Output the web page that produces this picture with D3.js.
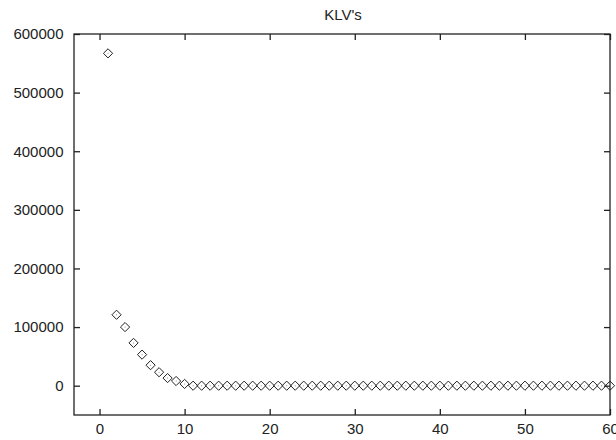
<!DOCTYPE html>
<html>
<head>
<meta charset="utf-8">
<script src="https://cdn.jsdelivr.net/npm/d3@7"></script>
<style>
  html, body { margin: 0; padding: 0; background: #fff; }
  svg { display: block; }
  text { font-family: "Liberation Sans", Arial, Helvetica, sans-serif; fill: #222; }
</style>
</head>
<body>
<svg id="chart" width="616" height="440"></svg>
<script>
// KLV value for each index 1..60
const xValues = d3.range(1, 61);
const klvValues = [
  567000, 121000, 100000, 73000, 53000, 35000, 23000, 13000, 8000, 3000,
  0, 0, 0, 0, 0, 0, 0, 0, 0, 0,
  0, 0, 0, 0, 0, 0, 0, 0, 0, 0,
  0, 0, 0, 0, 0, 0, 0, 0, 0, 0,
  0, 0, 0, 0, 0, 0, 0, 0, 0, 0,
  0, 0, 0, 0, 0, 0, 0, 0, 0, 0
];
const xTicks = [0, 10, 20, 30, 40, 50, 60];
const yTicks = [0, 100000, 200000, 300000, 400000, 500000, 600000];
const title = "KLV's";

const svg = d3.select("#chart");
const plotL = 74, plotR = 610, plotT = 34, plotB = 415;

const x = d3.scaleLinear().domain([-3, 60]).range([plotL, plotR]);
const y = d3.scaleLinear().domain([-50000, 600000]).range([plotB, plotT]);

const tickLen = 6;
const ink = "#222";
const fontPx = "15px";

// frame
svg.append("rect")
  .attr("x", plotL).attr("y", plotT)
  .attr("width", plotR - plotL).attr("height", plotB - plotT)
  .attr("fill", "none").attr("stroke", ink).attr("stroke-width", 1.3);

// axes with labels, ticks pointing inward, mirrored on top and right
const xAxis = d3.axisBottom(x).tickValues(xTicks).tickSize(-tickLen).tickPadding(8.5).tickFormat(d3.format("d"));
const yAxis = d3.axisLeft(y).tickValues(yTicks).tickSize(-tickLen).tickPadding(10.5).tickFormat(d3.format("d"));
const xTop = d3.axisTop(x).tickValues(xTicks).tickSize(-tickLen).tickFormat("");
const yRight = d3.axisRight(y).tickValues(yTicks).tickSize(-tickLen).tickFormat("");

function style(g) {
  g.select(".domain").remove();
  g.selectAll(".tick line").attr("stroke", ink).attr("stroke-width", 1.3);
  g.selectAll(".tick text").attr("fill", ink).style("font-size", fontPx)
    .style("font-family", "'Liberation Sans', Arial, sans-serif");
}

svg.append("g").attr("transform", `translate(0,${plotB})`).call(xAxis).call(style);
svg.append("g").attr("transform", `translate(${plotL},0)`).call(yAxis).call(style);
svg.append("g").attr("transform", `translate(0,${plotT})`).call(xTop).call(style);
svg.append("g").attr("transform", `translate(${plotR},0)`).call(yRight).call(style);

// title
svg.append("text")
  .attr("x", (plotL + plotR) / 2 + 1).attr("y", 20)
  .attr("text-anchor", "middle")
  .style("font-size", fontPx)
  .text(title);

// diamond markers with a centre dot
const pts = svg.append("g");
const r = 4.6;
const data = xValues.map((v, i) => ({ x: v, y: klvValues[i] }));
pts.selectAll("path.m").data(data).join("path")
  .attr("class", "m")
  .attr("d", d => {
    const cx = x(d.x), cy = y(d.y);
    return `M${cx},${cy - r}L${cx + r},${cy}L${cx},${cy + r}L${cx - r},${cy}Z`;
  })
  .attr("fill", "none").attr("stroke", ink).attr("stroke-width", 1);
pts.selectAll("circle.c").data(data).join("circle")
  .attr("class", "c")
  .attr("cx", d => x(d.x)).attr("cy", d => y(d.y)).attr("r", 0.5)
  .attr("fill", "#777");
</script>
</body>
</html>
